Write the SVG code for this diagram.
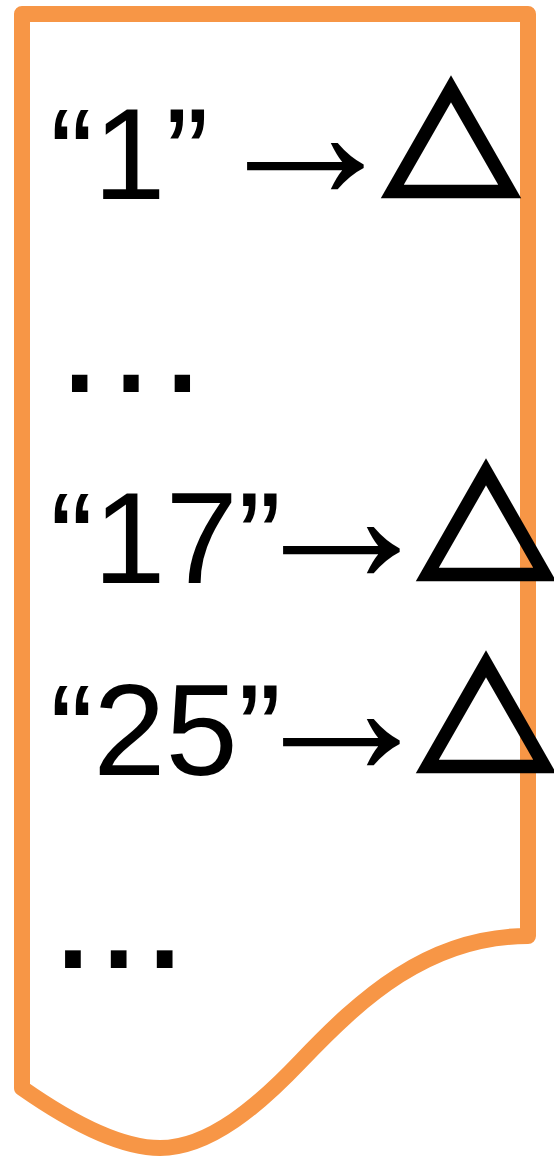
<svg xmlns="http://www.w3.org/2000/svg" width="554" height="1159" viewBox="0 0 554 1159">
<style>
.doc{fill:#fff;stroke:#F79646;stroke-width:16;stroke-linejoin:round}
.t{font-family:"Liberation Sans",Arial,sans-serif;font-size:130px;fill:#000}
.arr{font-size:197px}
.tri{font-family:"Noto Sans CJK JP",sans-serif;font-size:134px;fill:#000;stroke:#000;stroke-width:8.4;stroke-linejoin:miter;stroke-miterlimit:4}
.dots{font-family:"Liberation Sans",Arial,sans-serif;fill:#000}
</style>
<rect width="554" height="1159" fill="#fff"/>
<g id="document">
<path class="doc" d="M22 14 L528 14 L528 936 C428 936 360 999 300 1062 C260 1104 210 1148 160 1148 C115 1148 62 1116 22 1088 Z"/>
</g>
<g id="line1">
<text class="t" x="50" y="199">“1” <tspan class="arr" x="207">→</tspan><tspan class="tri" x="384" y="195">△</tspan></text>
</g>
<g id="dots1">
<text class="dots" x="50" y="392" font-size="162">…</text>
</g>
<g id="line2">
<text class="t" x="50" y="583">“17”<tspan class="arr" x="243">→</tspan><tspan class="tri" x="419" y="578">△</tspan></text>
</g>
<g id="line3">
<text class="t" x="50" y="775">“25”<tspan class="arr" x="243">→</tspan><tspan class="tri" x="419" y="770">△</tspan></text>
</g>
<g id="dots2">
<text class="dots" x="50" y="968" font-size="165">...</text>
</g>
<g id="connectors"/>
</svg>
